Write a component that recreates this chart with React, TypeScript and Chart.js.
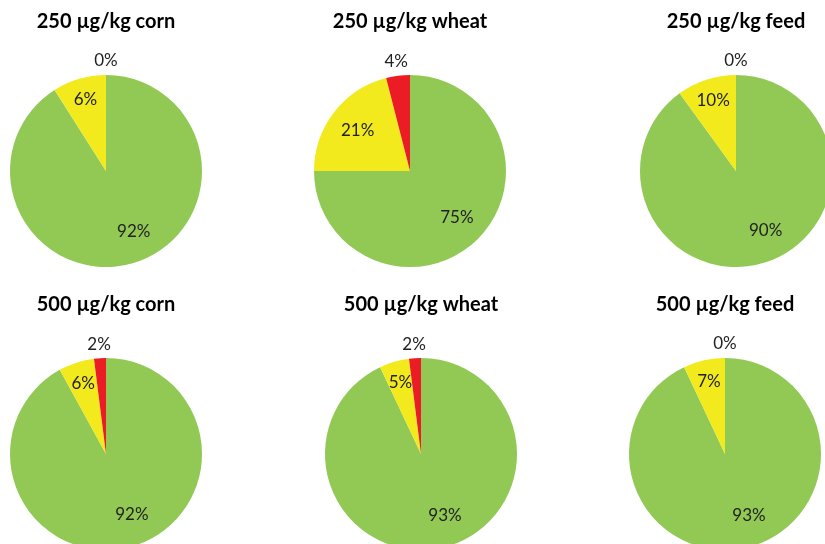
import React, { useEffect, useRef } from "react";
import { Chart, registerables } from "chart.js";

Chart.register(...registerables);

// ---- Data ----
const categories = ["Green", "Yellow", "Red"];
const pieTitles = [
  "250 µg/kg corn",
  "250 µg/kg wheat",
  "250 µg/kg feed",
  "500 µg/kg corn",
  "500 µg/kg wheat",
  "500 µg/kg feed",
];
const corn250 = [91, 9, 0];
const wheat250 = [75, 21, 4];
const feed250 = [90, 10, 0];
const corn500 = [92, 6, 2];
const wheat500 = [93, 5, 2];
const feed500 = [93, 7, 0];

const corn250Labels = ["92%", "6%", "0%"];
const wheat250Labels = ["75%", "21%", "4%"];
const feed250Labels = ["90%", "10%", "0%"];
const corn500Labels = ["92%", "6%", "2%"];
const wheat500Labels = ["93%", "5%", "2%"];
const feed500Labels = ["93%", "7%", "0%"];

const pieValues = [corn250, wheat250, feed250, corn500, wheat500, feed500];
const pieLabels = [corn250Labels, wheat250Labels, feed250Labels, corn500Labels, wheat500Labels, feed500Labels];

// ---- Style / layout ----
const sliceColors = ["#92C955", "#F2EA1C", "#EC1C24"];
const CANVAS_W = 260;
const CANVAS_H = 290;
const panelPos = [
  { left: -24, top: 0 },
  { left: 280, top: 0 },
  { left: 606, top: 0 },
  { left: -24, top: 283 },
  { left: 291, top: 283 },
  { left: 595, top: 283 },
];

const labelPlugin = {
  id: "pieLabels",
  afterDatasetsDraw(chart: any, _args: any, opts: any) {
    const ctx = chart.ctx;
    const meta = chart.getDatasetMeta(0);
    const texts: string[] = opts.texts || [];
    const data: number[] = chart.data.datasets[0].data;
    const total = data.reduce((a: number, b: number) => a + b, 0);
    ctx.save();
    ctx.font = "17px Lato";
    ctx.fillStyle = "#222";
    ctx.textAlign = "center";
    ctx.textBaseline = "middle";
    meta.data.forEach((arc: any, i: number) => {
      const p = arc.getProps(["x", "y", "startAngle", "endAngle", "outerRadius"], true);
      let mid = (p.startAngle + p.endAngle) / 2;
      const frac = data[i] / total;
      let d: number;
      if (i === 2) d = p.outerRadius + 14;
      else if (frac < 0.12) d = p.outerRadius * 0.77;
      else {
        d = p.outerRadius * 0.69;
        if (frac > 0.8) mid -= 0.15;
      }
      const x = p.x + Math.cos(mid) * d;
      const y = p.y + Math.sin(mid) * d;
      ctx.fillText(texts[i], x, y);
    });
    ctx.restore();
  },
};

function PiePanel({ idx }: { idx: number }) {
  const ref = useRef<HTMLCanvasElement | null>(null);
  useEffect(() => {
    if (!ref.current) return;
    const chart = new Chart(ref.current, {
      type: "pie",
      data: {
        labels: categories,
        datasets: [
          {
            data: pieValues[idx],
            backgroundColor: sliceColors,
            borderWidth: 0,
          },
        ],
      },
      options: {
        animation: false,
        responsive: false,
        devicePixelRatio: 1,
        layout: { padding: { top: 0, left: 34, right: 34, bottom: 23 } },
        plugins: {
          legend: { display: false },
          tooltip: { enabled: false },
          title: {
            display: true,
            text: pieTitles[idx],
            color: "#000",
            font: { family: "Lato", size: 20, weight: "bold" },
            padding: { top: 10, bottom: 41 },
          },
          pieLabels: { texts: pieLabels[idx] },
        } as any,
      },
      plugins: [labelPlugin],
    });
    return () => chart.destroy();
  }, [idx]);
  const pos = panelPos[idx];
  return (
    <div style={{ position: "absolute", left: pos.left, top: pos.top, width: CANVAS_W, height: CANVAS_H }}>
      <canvas ref={ref} width={CANVAS_W} height={CANVAS_H} style={{ display: "block" }} />
    </div>
  );
}

export default function App() {
  return (
    <div
      style={{
        position: "fixed",
        left: 0,
        top: 0,
        width: 825,
        height: 544,
        overflow: "hidden",
        background: "#fff",
      }}
    >
      {pieTitles.map((_, i) => (
        <PiePanel key={i} idx={i} />
      ))}
    </div>
  );
}
